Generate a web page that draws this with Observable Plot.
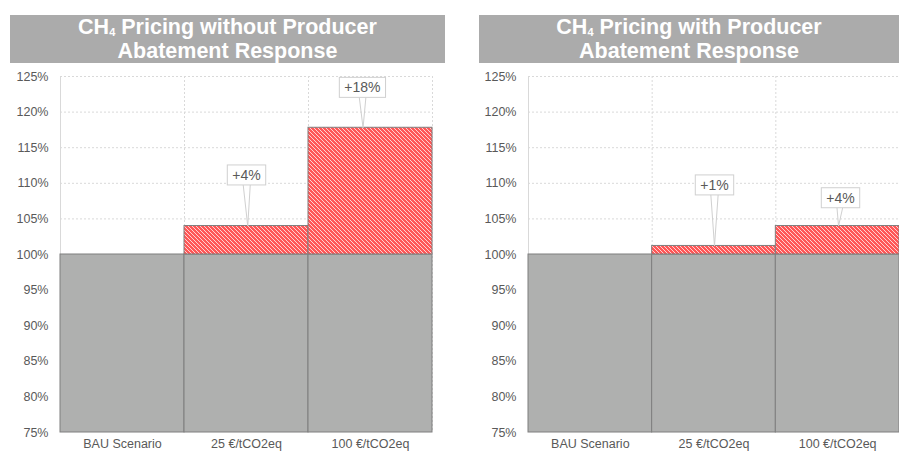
<!DOCTYPE html>
<html>
<head>
<meta charset="utf-8">
<script src="https://cdn.jsdelivr.net/npm/d3@7"></script>
<script src="https://cdn.jsdelivr.net/npm/@observablehq/plot@0.6"></script>
<style>
  html, body { margin: 0; padding: 0; background: #fff; }
  body { width: 899px; height: 453px; position: relative; overflow: hidden; font-family: "Liberation Sans", Arial, sans-serif; }
  .title {
    position: absolute; top: 15px; height: 48px; background: #ababab; color: #fff;
    font-weight: bold; font-size: 21.5px; line-height: 24px; text-align: center;
    display: flex; align-items: center; justify-content: center;
  }
  .title span { display: block; }
  .title sub { font-size: 11px; line-height: 0; vertical-align: -2px; }
  .chart { position: absolute; top: 66px; }
</style>
</head>
<body>
<svg width="0" height="0" style="position:absolute">
  <defs>
    <pattern id="hatch" patternUnits="userSpaceOnUse" width="4" height="4">
      <rect width="4" height="4" fill="#ff5757"></rect>
      <path d="M-1,3 l2,2 M0,0 l4,4 M3,-1 l2,2" stroke="#ffd2d2" stroke-width="1"></path>
    </pattern>
  </defs>
</svg>
<div class="title" style="left:10px;width:435px;"><div><span>CH<sub>4</sub> Pricing without Producer</span><span>Abatement Response</span></div></div>
<div class="title" style="left:479px;width:420px;"><div><span>CH<sub>4</sub> Pricing with Producer</span><span>Abatement Response</span></div></div>
<div id="left" class="chart" style="left:0px;"></div>
<div id="right" class="chart" style="left:468px;"></div>
<script>
const categories = ["BAU Scenario", "25 €/tCO2eq", "100 €/tCO2eq"];
const baselineValues = [100, 100, 100];
const withoutAbatement = [100, 104, 117.8];
const withAbatement = [100, 101.2, 104];
const yTicks = [75, 80, 85, 90, 95, 100, 105, 110, 115, 120, 125];

function drawChart(el, values, width, marginRight, callouts) {
  const bars = categories.map((c, i) => ({cat: c, i, base: baselineValues[i], value: values[i]}));
  const extra = bars.filter(d => d.value > d.base);
  const labels = callouts.map(c => {
    const d = bars[c.i];
    return {...c, tipX: d.i + c.tipDx, tipY: d.value, label: "+" + Math.round(d.value - d.base) + "%"};
  });
  const plot = Plot.plot({
    width, height: 387,
    marginLeft: 60, marginRight, marginTop: 10, marginBottom: 21,
    style: {fontFamily: "'Liberation Sans', Arial, sans-serif", fontSize: "12.5px", color: "#595959", background: "transparent"},
    x: {domain: [0, 3], ticks: [0.5, 1.5, 2.5], tickFormat: t => categories[Math.floor(t)], tickSize: 0, tickPadding: 7, label: null},
    y: {domain: [75, 125], ticks: yTicks, tickFormat: d => d + "%", tickSize: 0, tickPadding: 12, label: null},
    marks: [
      Plot.ruleY(yTicks.slice(1), {stroke: "#d9d9d9", strokeDasharray: "2,2"}),
      Plot.ruleX([1, 2, 3], {stroke: "#d9d9d9", strokeDasharray: "2,2"}),
      Plot.ruleX([0], {stroke: "#d9d9d9"}),
      Plot.rectY(bars, {x1: d => d.i, x2: d => d.i + 1, y1: 75, y2: d => d.base, fill: "#afb0af", stroke: "#7f7f7f", strokeWidth: 1}),
      Plot.rectY(extra, {x1: d => d.i, x2: d => d.i + 1, y1: d => d.base, y2: d => d.value, fill: "url(#hatch)", stroke: "#7f7f7f", strokeWidth: 1}),
      Plot.link(labels, {x1: d => d.i + d.dx - 0.035, y1: d => d.ly, x2: "tipX", y2: "tipY", stroke: "#d0d0d0", strokeWidth: 1}),
      Plot.link(labels, {x1: d => d.i + d.dx + 0.035, y1: d => d.ly, x2: "tipX", y2: "tipY", stroke: "#d0d0d0", strokeWidth: 1}),
      Plot.text(labels, {x: d => d.i + d.dx, y: "ly", text: "label", fontSize: 14, fill: "#595959", className: "callout"})
    ]
  });
  document.getElementById(el).appendChild(plot);
  // white boxes behind the callout texts
  d3.select(plot).selectAll(".callout text").each(function() {
    const b = this.getBBox();
    const rect = document.createElementNS("http://www.w3.org/2000/svg", "rect");
    rect.setAttribute("x", b.x - 5);
    rect.setAttribute("y", b.y - 2);
    rect.setAttribute("width", b.width + 10);
    rect.setAttribute("height", b.height + 4);
    rect.setAttribute("fill", "#fff");
    rect.setAttribute("stroke", "#d0d0d0");
    rect.setAttribute("stroke-width", 1);
    const tr = this.getAttribute("transform");
    if (tr) rect.setAttribute("transform", tr);
    this.parentNode.insertBefore(rect, this);
  });
}

drawChart("left", withoutAbatement, 445, 13, [
  {i: 1, dx: 0.5, ly: 111.1, tipDx: 0.51},
  {i: 2, dx: 0.435, ly: 123.4, tipDx: 0.44}
]);
drawChart("right", withAbatement, 431, 0, [
  {i: 1, dx: 0.504, ly: 109.7, tipDx: 0.504},
  {i: 2, dx: 0.523, ly: 107.9, tipDx: 0.507}
]);
</script>
</body>
</html>
